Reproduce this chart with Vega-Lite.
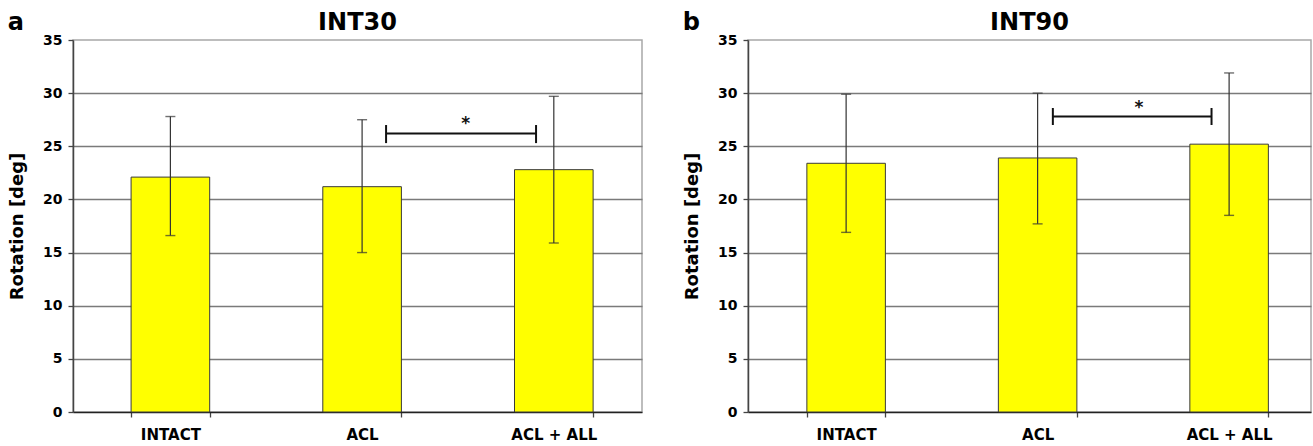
{
  "$schema": "https://vega.github.io/schema/vega-lite/v6.json",
  "padding": {"left": 7, "top": 10, "right": 2, "bottom": 3},
  "spacing": 39,
  "datasets": {
    "bars": [
      {"panel": "a", "cond": "INTACT", "mean": 22.1, "lo": 16.6, "hi": 27.8},
      {"panel": "a", "cond": "ACL", "mean": 21.2, "lo": 15.0, "hi": 27.5},
      {"panel": "a", "cond": "ACL + ALL", "mean": 22.8, "lo": 15.9, "hi": 29.7},
      {"panel": "b", "cond": "INTACT", "mean": 23.4, "lo": 16.9, "hi": 29.9},
      {"panel": "b", "cond": "ACL", "mean": 23.9, "lo": 17.7, "hi": 30.0},
      {"panel": "b", "cond": "ACL + ALL", "mean": 25.2, "lo": 18.5, "hi": 31.9}
    ],
    "sig": [
      {"panel": "a", "from": "ACL", "to": "ACL + ALL", "y": 26.2, "ylo": 25.3, "yhi": 27.0, "label": "*", "ystar": 27.1},
      {"panel": "b", "from": "ACL", "to": "ACL + ALL", "y": 27.8, "ylo": 27.0, "yhi": 28.6, "label": "*", "ystar": 28.6}
    ]
  },
  "hconcat": [
    {
      "title": {"text": "a", "anchor": "start", "frame": "bounds", "fontSize": 24, "offset": -25},
      "vconcat": [
        {
          "width": 569,
          "height": 372,
          "title": {"text": "INT30", "fontSize": 24, "offset": -2},
          "layer": [
            {
              "data": {"name": "bars"},
              "transform": [{"filter": "datum.panel === 'a'"}],
              "mark": {"type": "bar", "color": "#ffff00", "stroke": "#3a3a3a", "strokeWidth": 1},
              "encoding": {
                "x": {"field": "cond", "type": "nominal", "title": null,
                      "scale": {"domain": ["INTACT", "ACL", "ACL + ALL"], "paddingInner": 0.59, "paddingOuter": 0.279, "align": 0.543}},
                "y": {"field": "mean", "type": "quantitative", "title": "Rotation [deg]",
                      "scale": {"domain": [0, 35], "nice": false},
                      "axis": {"values": [0, 5, 10, 15, 20, 25, 30, 35],
                               "gridOpacity": {"condition": {"test": "datum.value === 0 || datum.value === 35", "value": 0}, "value": 1}}}
              }
            },
            {
              "data": {"name": "bars"},
              "transform": [{"filter": "datum.panel === 'a'"}],
              "mark": {"type": "rule", "color": "#333333", "strokeWidth": 1.2},
              "encoding": {
                "x": {"field": "cond", "type": "nominal", "title": null},
                "y": {"field": "lo", "type": "quantitative", "title": "Rotation [deg]"},
                "y2": {"field": "hi"}
              }
            },
            {
              "data": {"name": "bars"},
              "transform": [{"filter": "datum.panel === 'a'"}],
              "mark": {"type": "tick", "orient": "horizontal", "size": 10, "thickness": 1.4, "color": "#333333"},
              "encoding": {
                "x": {"field": "cond", "type": "nominal", "title": null},
                "y": {"field": "lo", "type": "quantitative", "title": "Rotation [deg]"}
              }
            },
            {
              "data": {"name": "bars"},
              "transform": [{"filter": "datum.panel === 'a'"}],
              "mark": {"type": "tick", "orient": "horizontal", "size": 10, "thickness": 1.4, "color": "#333333"},
              "encoding": {
                "x": {"field": "cond", "type": "nominal", "title": null},
                "y": {"field": "hi", "type": "quantitative", "title": "Rotation [deg]"}
              }
            },
            {
              "data": {"name": "sig"},
              "transform": [{"filter": "datum.panel === 'a'"}],
              "mark": {"type": "rule", "color": "#111111", "strokeWidth": 2},
              "encoding": {
                "x": {"field": "from", "type": "nominal", "title": null, "bandPosition": 0.805},
                "x2": {"field": "to", "bandPosition": 0.274},
                "y": {"field": "y", "type": "quantitative", "title": "Rotation [deg]"}
              }
            },
            {
              "data": {"name": "sig"},
              "transform": [{"filter": "datum.panel === 'a'"}],
              "mark": {"type": "rule", "color": "#111111", "strokeWidth": 2},
              "encoding": {
                "x": {"field": "from", "type": "nominal", "title": null, "bandPosition": 0.805},
                "y": {"field": "ylo", "type": "quantitative", "title": "Rotation [deg]"},
                "y2": {"field": "yhi"}
              }
            },
            {
              "data": {"name": "sig"},
              "transform": [{"filter": "datum.panel === 'a'"}],
              "mark": {"type": "rule", "color": "#111111", "strokeWidth": 2},
              "encoding": {
                "x": {"field": "to", "type": "nominal", "title": null, "bandPosition": 0.274},
                "y": {"field": "ylo", "type": "quantitative", "title": "Rotation [deg]"},
                "y2": {"field": "yhi"}
              }
            },
            {
              "data": {"name": "sig"},
              "transform": [{"filter": "datum.panel === 'a'"}],
              "mark": {"type": "text", "fontSize": 17, "fontWeight": "bold", "baseline": "middle", "align": "center", "color": "#111111"},
              "encoding": {
                "x": {"field": "to", "type": "nominal", "title": null, "bandPosition": -0.62},
                "y": {"field": "ystar", "type": "quantitative", "title": "Rotation [deg]"},
                "text": {"field": "label"}
              }
            }
          ]
        }
      ]
    },
    {
      "title": {"text": "b", "anchor": "start", "frame": "bounds", "fontSize": 24, "offset": -25},
      "vconcat": [
        {
          "width": 563,
          "height": 372,
          "title": {"text": "INT90", "fontSize": 24, "offset": -2},
          "layer": [
            {
              "data": {"name": "bars"},
              "transform": [{"filter": "datum.panel === 'b'"}],
              "mark": {"type": "bar", "color": "#ffff00", "stroke": "#3a3a3a", "strokeWidth": 1},
              "encoding": {
                "x": {"field": "cond", "type": "nominal", "title": null,
                      "scale": {"domain": ["INTACT", "ACL", "ACL + ALL"], "paddingInner": 0.59, "paddingOuter": 0.265, "align": 0.58}},
                "y": {"field": "mean", "type": "quantitative", "title": "Rotation [deg]",
                      "scale": {"domain": [0, 35], "nice": false},
                      "axis": {"values": [0, 5, 10, 15, 20, 25, 30, 35],
                               "gridOpacity": {"condition": {"test": "datum.value === 0 || datum.value === 35", "value": 0}, "value": 1}}}
              }
            },
            {
              "data": {"name": "bars"},
              "transform": [{"filter": "datum.panel === 'b'"}],
              "mark": {"type": "rule", "color": "#333333", "strokeWidth": 1.2},
              "encoding": {
                "x": {"field": "cond", "type": "nominal", "title": null},
                "y": {"field": "lo", "type": "quantitative", "title": "Rotation [deg]"},
                "y2": {"field": "hi"}
              }
            },
            {
              "data": {"name": "bars"},
              "transform": [{"filter": "datum.panel === 'b'"}],
              "mark": {"type": "tick", "orient": "horizontal", "size": 10, "thickness": 1.4, "color": "#333333"},
              "encoding": {
                "x": {"field": "cond", "type": "nominal", "title": null},
                "y": {"field": "lo", "type": "quantitative", "title": "Rotation [deg]"}
              }
            },
            {
              "data": {"name": "bars"},
              "transform": [{"filter": "datum.panel === 'b'"}],
              "mark": {"type": "tick", "orient": "horizontal", "size": 10, "thickness": 1.4, "color": "#333333"},
              "encoding": {
                "x": {"field": "cond", "type": "nominal", "title": null},
                "y": {"field": "hi", "type": "quantitative", "title": "Rotation [deg]"}
              }
            },
            {
              "data": {"name": "sig"},
              "transform": [{"filter": "datum.panel === 'b'"}],
              "mark": {"type": "rule", "color": "#111111", "strokeWidth": 2},
              "encoding": {
                "x": {"field": "from", "type": "nominal", "title": null, "bandPosition": 0.694},
                "x2": {"field": "to", "bandPosition": 0.276},
                "y": {"field": "y", "type": "quantitative", "title": "Rotation [deg]"}
              }
            },
            {
              "data": {"name": "sig"},
              "transform": [{"filter": "datum.panel === 'b'"}],
              "mark": {"type": "rule", "color": "#111111", "strokeWidth": 2},
              "encoding": {
                "x": {"field": "from", "type": "nominal", "title": null, "bandPosition": 0.694},
                "y": {"field": "ylo", "type": "quantitative", "title": "Rotation [deg]"},
                "y2": {"field": "yhi"}
              }
            },
            {
              "data": {"name": "sig"},
              "transform": [{"filter": "datum.panel === 'b'"}],
              "mark": {"type": "rule", "color": "#111111", "strokeWidth": 2},
              "encoding": {
                "x": {"field": "to", "type": "nominal", "title": null, "bandPosition": 0.276},
                "y": {"field": "ylo", "type": "quantitative", "title": "Rotation [deg]"},
                "y2": {"field": "yhi"}
              }
            },
            {
              "data": {"name": "sig"},
              "transform": [{"filter": "datum.panel === 'b'"}],
              "mark": {"type": "text", "fontSize": 17, "fontWeight": "bold", "baseline": "middle", "align": "center", "color": "#111111"},
              "encoding": {
                "x": {"field": "to", "type": "nominal", "title": null, "bandPosition": -0.65},
                "y": {"field": "ystar", "type": "quantitative", "title": "Rotation [deg]"},
                "text": {"field": "label"}
              }
            }
          ]
        }
      ]
    }
  ],
  "config": {
    "font": "DejaVu Sans",
    "background": "white",
    "view": {"stroke": "#a8a8a8", "strokeWidth": 1.5},
    "title": {"font": "DejaVu Sans", "fontWeight": "bold", "color": "#000000"},
    "axis": {
      "labelFont": "DejaVu Sans", "labelFontWeight": "bold", "labelColor": "#000000",
      "titleFont": "DejaVu Sans", "titleColor": "#000000",
      "domainColor": "#444444", "domainWidth": 1.5,
      "tickColor": "#444444", "tickWidth": 1.3, "tickSize": 5
    },
    "axisX": {"labelFontSize": 15, "labelPadding": 10, "tickBand": "extent", "grid": false, "labelAngle": 0, "domainColor": "#222222"},
    "axisY": {"labelFontSize": 14, "labelPadding": 6, "titleFontSize": 18, "titleFontWeight": "bold", "titlePadding": 16, "gridColor": "#7a7a7a", "gridWidth": 1.6}
  }
}
